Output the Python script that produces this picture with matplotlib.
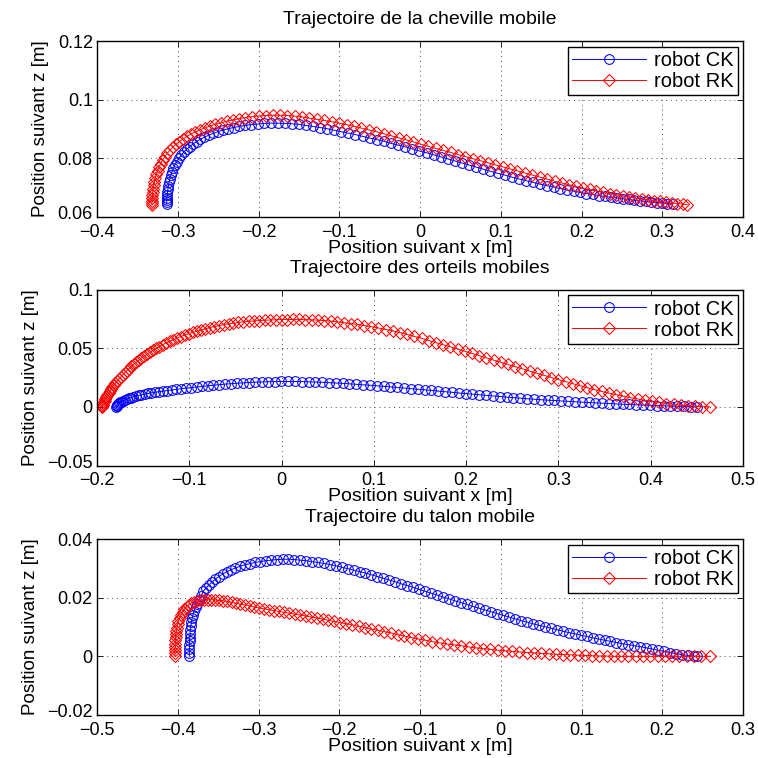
import matplotlib
matplotlib.use("Agg")
import matplotlib.pyplot as plt
from matplotlib.ticker import FuncFormatter, MultipleLocator
from matplotlib.transforms import ScaledTranslation

plt.rcParams['font.family'] = ['Liberation Sans', 'DejaVu Sans']
plt.rcParams['axes.unicode_minus'] = True

# ---------------- data ----------------
titles = ["Trajectoire de la cheville mobile",
          "Trajectoire des orteils mobiles",
          "Trajectoire du talon mobile"]
xlabel = "Position suivant x [m]"
ylabel = "Position suivant z [m]"
series_labels = ["robot CK", "robot RK"]

xlims = [(-0.4, 0.4), (-0.2, 0.5), (-0.5, 0.3)]
ylims = [(0.06, 0.12), (-0.05, 0.1), (-0.02, 0.04)]
xsteps = [0.1, 0.1, 0.1]
ysteps = [0.02, 0.05, 0.02]

# Ankle (cheville) - robot CK
ankle_ck = [
    (-0.3137, 0.0644), (-0.3137, 0.0650), (-0.3136, 0.0657), (-0.3134, 0.0665), (-0.3131, 0.0674),
    (-0.3127, 0.0684), (-0.3122, 0.0695), (-0.3116, 0.0706), (-0.3108, 0.0718), (-0.3098, 0.0730),
    (-0.3086, 0.0742), (-0.3072, 0.0754), (-0.3055, 0.0766), (-0.3035, 0.0778), (-0.3012, 0.0789),
    (-0.2986, 0.0800), (-0.2957, 0.0811), (-0.2925, 0.0821), (-0.2890, 0.0831), (-0.2852, 0.0840),
    (-0.2811, 0.0849), (-0.2767, 0.0857), (-0.2720, 0.0865), (-0.2670, 0.0872), (-0.2617, 0.0879),
    (-0.2561, 0.0885), (-0.2502, 0.0891), (-0.2440, 0.0896), (-0.2375, 0.0901), (-0.2307, 0.0905),
    (-0.2236, 0.0909), (-0.2163, 0.0912), (-0.2087, 0.0915), (-0.2009, 0.0917), (-0.1929, 0.0919),
    (-0.1847, 0.0920), (-0.1763, 0.0920), (-0.1678, 0.0919), (-0.1591, 0.0918), (-0.1503, 0.0916),
    (-0.1415, 0.0912), (-0.1327, 0.0909), (-0.1239, 0.0905), (-0.1151, 0.0901), (-0.1063, 0.0896),
    (-0.0975, 0.0891), (-0.0887, 0.0886), (-0.0799, 0.0881), (-0.0711, 0.0875), (-0.0623, 0.0869),
    (-0.0535, 0.0864), (-0.0447, 0.0858), (-0.0359, 0.0851), (-0.0271, 0.0845), (-0.0183, 0.0839),
    (-0.0095, 0.0832), (-0.0007, 0.0825), (0.0081, 0.0819), (0.0169, 0.0812), (0.0257, 0.0805),
    (0.0345, 0.0798), (0.0433, 0.0791), (0.0521, 0.0784), (0.0609, 0.0777), (0.0697, 0.0770),
    (0.0785, 0.0763), (0.0873, 0.0756), (0.0961, 0.0749), (0.1049, 0.0743), (0.1137, 0.0736),
    (0.1225, 0.0730), (0.1313, 0.0724), (0.1400, 0.0718), (0.1486, 0.0712), (0.1571, 0.0707),
    (0.1655, 0.0702), (0.1738, 0.0697), (0.1820, 0.0692), (0.1901, 0.0688), (0.1981, 0.0684),
    (0.2060, 0.0680), (0.2138, 0.0677), (0.2215, 0.0673), (0.2291, 0.0670), (0.2366, 0.0667),
    (0.2440, 0.0665), (0.2513, 0.0662), (0.2585, 0.0660), (0.2656, 0.0657), (0.2726, 0.0655),
    (0.2795, 0.0653), (0.2863, 0.0651), (0.2930, 0.0649), (0.2996, 0.0648), (0.3061, 0.0646),
    (0.3130, 0.0644),
]

# Ankle (cheville) - robot RK
ankle_rk = [
    (-0.3320, 0.0641), (-0.3320, 0.0648), (-0.3319, 0.0656), (-0.3317, 0.0665), (-0.3314, 0.0675),
    (-0.3310, 0.0686), (-0.3305, 0.0697), (-0.3298, 0.0709), (-0.3289, 0.0721), (-0.3278, 0.0733),
    (-0.3265, 0.0746), (-0.3250, 0.0758), (-0.3232, 0.0770), (-0.3211, 0.0782), (-0.3187, 0.0794),
    (-0.3160, 0.0806), (-0.3130, 0.0817), (-0.3097, 0.0828), (-0.3061, 0.0838), (-0.3022, 0.0848),
    (-0.2980, 0.0857), (-0.2935, 0.0866), (-0.2887, 0.0875), (-0.2836, 0.0883), (-0.2782, 0.0890),
    (-0.2725, 0.0897), (-0.2665, 0.0904), (-0.2602, 0.0910), (-0.2536, 0.0916), (-0.2467, 0.0921),
    (-0.2395, 0.0926), (-0.2320, 0.0931), (-0.2243, 0.0935), (-0.2163, 0.0939), (-0.2081, 0.0942),
    (-0.1997, 0.0944), (-0.1911, 0.0946), (-0.1823, 0.0947), (-0.1734, 0.0947), (-0.1644, 0.0946),
    (-0.1553, 0.0944), (-0.1462, 0.0941), (-0.1370, 0.0937), (-0.1278, 0.0933), (-0.1186, 0.0929),
    (-0.1094, 0.0925), (-0.1002, 0.0920), (-0.0910, 0.0915), (-0.0818, 0.0909), (-0.0726, 0.0903),
    (-0.0634, 0.0897), (-0.0542, 0.0891), (-0.0450, 0.0884), (-0.0358, 0.0877), (-0.0266, 0.0870),
    (-0.0174, 0.0863), (-0.0082, 0.0856), (0.0010, 0.0848), (0.0102, 0.0841), (0.0194, 0.0834),
    (0.0286, 0.0827), (0.0378, 0.0820), (0.0470, 0.0813), (0.0562, 0.0806), (0.0654, 0.0799),
    (0.0746, 0.0792), (0.0838, 0.0785), (0.0930, 0.0778), (0.1022, 0.0771), (0.1114, 0.0764),
    (0.1206, 0.0757), (0.1298, 0.0750), (0.1390, 0.0743), (0.1482, 0.0736), (0.1574, 0.0729),
    (0.1666, 0.0722), (0.1755, 0.0716), (0.1843, 0.0710), (0.1930, 0.0704), (0.2016, 0.0699),
    (0.2101, 0.0694), (0.2185, 0.0689), (0.2268, 0.0684), (0.2350, 0.0680), (0.2431, 0.0676),
    (0.2511, 0.0672), (0.2590, 0.0668), (0.2668, 0.0665), (0.2745, 0.0662), (0.2821, 0.0659),
    (0.2896, 0.0656), (0.2970, 0.0653), (0.3043, 0.0650), (0.3115, 0.0648), (0.3186, 0.0646),
    (0.3256, 0.0644), (0.3310, 0.0642),
]

# Toes (orteils) - robot CK
toes_ck = [
    (-0.1790, 0.0000), (-0.1788, 0.0005), (-0.1784, 0.0011), (-0.1778, 0.0017), (-0.1770, 0.0024),
    (-0.1760, 0.0031), (-0.1748, 0.0038), (-0.1734, 0.0045), (-0.1718, 0.0052), (-0.1700, 0.0059),
    (-0.1680, 0.0066), (-0.1658, 0.0073), (-0.1634, 0.0079), (-0.1608, 0.0085), (-0.1580, 0.0091),
    (-0.1550, 0.0097), (-0.1518, 0.0103), (-0.1484, 0.0109), (-0.1448, 0.0114), (-0.1410, 0.0119),
    (-0.1370, 0.0124), (-0.1328, 0.0129), (-0.1284, 0.0134), (-0.1238, 0.0139), (-0.1190, 0.0144),
    (-0.1140, 0.0149), (-0.1088, 0.0154), (-0.1034, 0.0159), (-0.0978, 0.0164), (-0.0920, 0.0169),
    (-0.0861, 0.0174), (-0.0801, 0.0179), (-0.0740, 0.0184), (-0.0678, 0.0189), (-0.0615, 0.0193),
    (-0.0551, 0.0197), (-0.0486, 0.0201), (-0.0420, 0.0204), (-0.0353, 0.0207), (-0.0285, 0.0210),
    (-0.0216, 0.0212), (-0.0146, 0.0214), (-0.0075, 0.0215), (-0.0003, 0.0216), (0.0070, 0.0216),
    (0.0144, 0.0216), (0.0218, 0.0215), (0.0292, 0.0213), (0.0366, 0.0211), (0.0440, 0.0209),
    (0.0514, 0.0206), (0.0588, 0.0203), (0.0662, 0.0200), (0.0736, 0.0196), (0.0810, 0.0192),
    (0.0884, 0.0188), (0.0958, 0.0184), (0.1032, 0.0179), (0.1106, 0.0175), (0.1180, 0.0170),
    (0.1254, 0.0165), (0.1328, 0.0160), (0.1402, 0.0155), (0.1476, 0.0150), (0.1550, 0.0145),
    (0.1624, 0.0140), (0.1698, 0.0134), (0.1772, 0.0129), (0.1846, 0.0124), (0.1920, 0.0118),
    (0.1994, 0.0113), (0.2068, 0.0108), (0.2142, 0.0103), (0.2216, 0.0098), (0.2290, 0.0093),
    (0.2364, 0.0088), (0.2438, 0.0083), (0.2512, 0.0078), (0.2586, 0.0074), (0.2660, 0.0069),
    (0.2734, 0.0065), (0.2808, 0.0061), (0.2882, 0.0057), (0.2956, 0.0054), (0.3030, 0.0050),
    (0.3104, 0.0047), (0.3178, 0.0043), (0.3252, 0.0040), (0.3326, 0.0037), (0.3400, 0.0034),
    (0.3474, 0.0031), (0.3548, 0.0028), (0.3622, 0.0025), (0.3696, 0.0022), (0.3770, 0.0020),
    (0.3844, 0.0017), (0.3918, 0.0015), (0.3992, 0.0013), (0.4066, 0.0011), (0.4140, 0.0009),
    (0.4214, 0.0007), (0.4288, 0.0005), (0.4362, 0.0003), (0.4436, 0.0001), (0.4500, 0.0000),
]

# Toes (orteils) - robot RK
toes_rk = [
    (-0.1950, 0.0000), (-0.1947, 0.0005), (-0.1943, 0.0011), (-0.1938, 0.0019), (-0.1932, 0.0029),
    (-0.1925, 0.0040), (-0.1917, 0.0053), (-0.1908, 0.0067), (-0.1898, 0.0083), (-0.1887, 0.0098),
    (-0.1875, 0.0114), (-0.1862, 0.0132), (-0.1848, 0.0151), (-0.1833, 0.0169), (-0.1817, 0.0187),
    (-0.1800, 0.0203), (-0.1782, 0.0219), (-0.1763, 0.0236), (-0.1743, 0.0253), (-0.1722, 0.0272),
    (-0.1700, 0.0292), (-0.1677, 0.0309), (-0.1653, 0.0326), (-0.1628, 0.0345), (-0.1602, 0.0364),
    (-0.1575, 0.0381), (-0.1547, 0.0398), (-0.1518, 0.0416), (-0.1488, 0.0433), (-0.1457, 0.0449),
    (-0.1425, 0.0466), (-0.1392, 0.0483), (-0.1358, 0.0498), (-0.1323, 0.0514), (-0.1287, 0.0530),
    (-0.1250, 0.0545), (-0.1212, 0.0558), (-0.1173, 0.0572), (-0.1133, 0.0586), (-0.1092, 0.0599),
    (-0.1050, 0.0611), (-0.1007, 0.0624), (-0.0963, 0.0635), (-0.0918, 0.0645), (-0.0872, 0.0655),
    (-0.0825, 0.0666), (-0.0777, 0.0676), (-0.0728, 0.0684), (-0.0678, 0.0692), (-0.0627, 0.0701),
    (-0.0575, 0.0708), (-0.0522, 0.0713), (-0.0468, 0.0719), (-0.0413, 0.0725), (-0.0357, 0.0729),
    (-0.0300, 0.0732), (-0.0242, 0.0735), (-0.0183, 0.0738), (-0.0123, 0.0740), (-0.0062, 0.0742),
    (0.0000, 0.0744), (0.0063, 0.0744), (0.0127, 0.0745), (0.0192, 0.0745), (0.0258, 0.0743),
    (0.0325, 0.0741), (0.0393, 0.0739), (0.0462, 0.0735), (0.0532, 0.0730), (0.0603, 0.0725),
    (0.0675, 0.0717), (0.0748, 0.0710), (0.0822, 0.0702), (0.0897, 0.0693), (0.0973, 0.0683),
    (0.1050, 0.0672), (0.1128, 0.0659), (0.1206, 0.0647), (0.1284, 0.0633), (0.1362, 0.0617),
    (0.1440, 0.0600), (0.1518, 0.0584), (0.1596, 0.0565), (0.1674, 0.0547), (0.1752, 0.0529),
    (0.1830, 0.0511), (0.1908, 0.0492), (0.1986, 0.0473), (0.2064, 0.0455), (0.2142, 0.0436),
    (0.2220, 0.0417), (0.2298, 0.0398), (0.2376, 0.0380), (0.2454, 0.0361), (0.2532, 0.0342),
    (0.2610, 0.0324), (0.2688, 0.0305), (0.2766, 0.0286), (0.2844, 0.0268), (0.2922, 0.0250),
    (0.3000, 0.0232), (0.3078, 0.0215), (0.3156, 0.0197), (0.3234, 0.0180), (0.3312, 0.0163),
    (0.3390, 0.0147), (0.3468, 0.0131), (0.3546, 0.0117), (0.3624, 0.0104), (0.3702, 0.0091),
    (0.3780, 0.0078), (0.3858, 0.0067), (0.3936, 0.0056), (0.4014, 0.0046), (0.4092, 0.0037),
    (0.4170, 0.0028), (0.4248, 0.0021), (0.4326, 0.0015), (0.4404, 0.0010), (0.4482, 0.0005),
    (0.4560, 0.0002), (0.4640, 0.0000),
]

# Heel (talon) - robot CK
heel_ck = [
    (-0.3857, 0.0000), (-0.3857, 0.0012), (-0.3856, 0.0025), (-0.3855, 0.0038), (-0.3853, 0.0051),
    (-0.3851, 0.0064), (-0.3848, 0.0077), (-0.3844, 0.0090), (-0.3838, 0.0103), (-0.3831, 0.0116),
    (-0.3822, 0.0129), (-0.3811, 0.0142), (-0.3797, 0.0155), (-0.3780, 0.0168), (-0.3760, 0.0180),
    (-0.3737, 0.0192), (-0.3711, 0.0204), (-0.3682, 0.0222), (-0.3650, 0.0233), (-0.3615, 0.0243),
    (-0.3577, 0.0253), (-0.3536, 0.0263), (-0.3492, 0.0272), (-0.3445, 0.0280), (-0.3395, 0.0288),
    (-0.3342, 0.0295), (-0.3286, 0.0301), (-0.3228, 0.0307), (-0.3168, 0.0312), (-0.3106, 0.0316),
    (-0.3042, 0.0320), (-0.2976, 0.0323), (-0.2909, 0.0326), (-0.2841, 0.0328), (-0.2772, 0.0330),
    (-0.2702, 0.0331), (-0.2631, 0.0331), (-0.2559, 0.0330), (-0.2487, 0.0328), (-0.2414, 0.0326),
    (-0.2341, 0.0323), (-0.2267, 0.0320), (-0.2193, 0.0317), (-0.2119, 0.0313), (-0.2045, 0.0309),
    (-0.1971, 0.0304), (-0.1897, 0.0299), (-0.1823, 0.0294), (-0.1749, 0.0289), (-0.1675, 0.0284),
    (-0.1601, 0.0278), (-0.1527, 0.0272), (-0.1453, 0.0266), (-0.1379, 0.0260), (-0.1305, 0.0254),
    (-0.1231, 0.0247), (-0.1157, 0.0241), (-0.1083, 0.0235), (-0.1009, 0.0228), (-0.0935, 0.0222),
    (-0.0861, 0.0215), (-0.0787, 0.0209), (-0.0713, 0.0202), (-0.0639, 0.0196), (-0.0565, 0.0189),
    (-0.0491, 0.0183), (-0.0417, 0.0177), (-0.0343, 0.0170), (-0.0269, 0.0164), (-0.0195, 0.0158),
    (-0.0121, 0.0152), (-0.0047, 0.0146), (0.0027, 0.0140), (0.0101, 0.0134), (0.0175, 0.0128),
    (0.0249, 0.0122), (0.0323, 0.0117), (0.0397, 0.0111), (0.0471, 0.0106), (0.0545, 0.0101),
    (0.0619, 0.0096), (0.0693, 0.0091), (0.0767, 0.0086), (0.0841, 0.0081), (0.0915, 0.0077),
    (0.0989, 0.0072), (0.1063, 0.0068), (0.1137, 0.0063), (0.1211, 0.0059), (0.1285, 0.0055),
    (0.1359, 0.0051), (0.1433, 0.0047), (0.1507, 0.0043), (0.1581, 0.0040), (0.1655, 0.0036),
    (0.1729, 0.0033), (0.1803, 0.0029), (0.1877, 0.0025), (0.1951, 0.0021), (0.2025, 0.0017),
    (0.2099, 0.0013), (0.2173, 0.0009), (0.2247, 0.0006), (0.2321, 0.0003), (0.2395, 0.0001),
    (0.2430, 0.0000),
]

# Heel (talon) - robot RK
heel_rk = [
    (-0.4034, 0.0000), (-0.4034, 0.0010), (-0.4034, 0.0021), (-0.4033, 0.0032), (-0.4032, 0.0043),
    (-0.4030, 0.0054), (-0.4027, 0.0065), (-0.4023, 0.0076), (-0.4018, 0.0087), (-0.4011, 0.0098),
    (-0.4002, 0.0109), (-0.3991, 0.0120), (-0.3977, 0.0131), (-0.3960, 0.0142), (-0.3940, 0.0152),
    (-0.3917, 0.0161), (-0.3891, 0.0169), (-0.3862, 0.0176), (-0.3830, 0.0182), (-0.3795, 0.0186),
    (-0.3757, 0.0189), (-0.3717, 0.0191), (-0.3675, 0.0192), (-0.3631, 0.0193), (-0.3585, 0.0193),
    (-0.3537, 0.0192), (-0.3488, 0.0191), (-0.3437, 0.0189), (-0.3385, 0.0187), (-0.3332, 0.0184),
    (-0.3278, 0.0181), (-0.3223, 0.0178), (-0.3167, 0.0175), (-0.3110, 0.0172), (-0.3052, 0.0168),
    (-0.2993, 0.0165), (-0.2933, 0.0162), (-0.2872, 0.0159), (-0.2810, 0.0156), (-0.2747, 0.0153),
    (-0.2683, 0.0150), (-0.2618, 0.0147), (-0.2552, 0.0144), (-0.2485, 0.0141), (-0.2417, 0.0138),
    (-0.2348, 0.0134), (-0.2278, 0.0131), (-0.2207, 0.0127), (-0.2135, 0.0123), (-0.2062, 0.0119),
    (-0.1988, 0.0115), (-0.1913, 0.0111), (-0.1837, 0.0107), (-0.1760, 0.0102), (-0.1682, 0.0098),
    (-0.1603, 0.0093), (-0.1523, 0.0089), (-0.1442, 0.0084), (-0.1360, 0.0080), (-0.1277, 0.0074),
    (-0.1193, 0.0069), (-0.1108, 0.0064), (-0.1022, 0.0059), (-0.0935, 0.0055), (-0.0847, 0.0050),
    (-0.0758, 0.0046), (-0.0668, 0.0042), (-0.0578, 0.0039), (-0.0488, 0.0036), (-0.0398, 0.0032),
    (-0.0308, 0.0029), (-0.0218, 0.0026), (-0.0128, 0.0024), (-0.0038, 0.0021), (0.0052, 0.0019),
    (0.0142, 0.0017), (0.0232, 0.0015), (0.0322, 0.0013), (0.0412, 0.0012), (0.0502, 0.0010),
    (0.0592, 0.0009), (0.0682, 0.0007), (0.0772, 0.0006), (0.0862, 0.0005), (0.0952, 0.0004),
    (0.1042, 0.0003), (0.1132, 0.0002), (0.1222, 0.0001), (0.1312, 0.0001), (0.1402, 0.0000),
    (0.1492, 0.0000), (0.1582, 0.0000), (0.1672, 0.0000), (0.1762, 0.0000), (0.1852, 0.0000),
    (0.1942, 0.0000), (0.2032, 0.0000), (0.2122, 0.0000), (0.2212, 0.0000), (0.2302, 0.0000),
    (0.2392, 0.0000), (0.2482, 0.0000), (0.2590, 0.0000),
]

panels = [(ankle_ck, ankle_rk), (toes_ck, toes_rk), (heel_ck, heel_rk)]

# ---------------- figure ----------------
FS = 13
fig = plt.figure(figsize=(7.58, 7.58), dpi=100)
left, width = 97 / 758, (743 - 97) / 758
tops = [41, 289.5, 539]
h = 176 / 758

fmt = FuncFormatter(lambda v, p: ("%g" % round(v, 6)).replace("-", "\u2212"))
axes = []

for i, (ck, rk) in enumerate(panels):
    bottom = 1 - (tops[i] + 176) / 758
    ax = fig.add_axes([left, bottom, width, h])
    axes.append(ax)
    cx, cz = zip(*ck)
    rx, rz = zip(*rk)
    ax.plot(cx, cz, '-', color='blue', lw=0.7, marker='o', ms=7,
            mfc='none', mec='blue', mew=0.75, label=series_labels[0])
    ax.plot(rx, rz, '-', color='red', lw=0.7, marker='D', ms=6.5,
            mfc='none', mec='red', mew=0.75, label=series_labels[1])
    ax.set_xlim(*xlims[i])
    ax.set_ylim(*ylims[i])
    ax.xaxis.set_major_locator(MultipleLocator(xsteps[i]))
    ax.yaxis.set_major_locator(MultipleLocator(ysteps[i]))
    ax.xaxis.set_major_formatter(fmt)
    ax.yaxis.set_major_formatter(fmt)
    ax.tick_params(direction='in', top=True, right=True, length=4.5,
                   width=0.6, labelsize=FS)
    ax.tick_params(axis='x', pad=5)
    ax.tick_params(axis='y', pad=3)
    ax.grid(True, color='0.3', linestyle=(0, (1, 4)), linewidth=0.7)
    for s in ax.spines.values():
        s.set_linewidth(1.0)
    ax.set_title(titles[i], fontsize=14, pad=12)
    ax.set_xlabel(xlabel, fontsize=14, labelpad=-1)
    ax.set_ylabel(ylabel, fontsize=13.5, labelpad=6)
    leg = ax.legend(loc='upper right', bbox_to_anchor=(0.992, 0.966),
                    borderaxespad=0, fontsize=14.5, fancybox=False,
                    framealpha=1, edgecolor='black', handlelength=3.7,
                    borderpad=0.2, labelspacing=0.1, handletextpad=0.4)
    leg.get_frame().set_linewidth(1.0)

# lift the lowest y tick label a little so it does not touch the first x tick label
fig.canvas.draw()
for ax in axes:
    y0 = ax.get_ylim()[0]
    for tick in ax.yaxis.get_major_ticks():
        if abs(tick.get_loc() - y0) < 1e-9:
            lab = tick.label1
            lab.set_transform(lab.get_transform() +
                              ScaledTranslation(0, 3 / 72, fig.dpi_scale_trans))

fig.savefig("out.png", dpi=100)
